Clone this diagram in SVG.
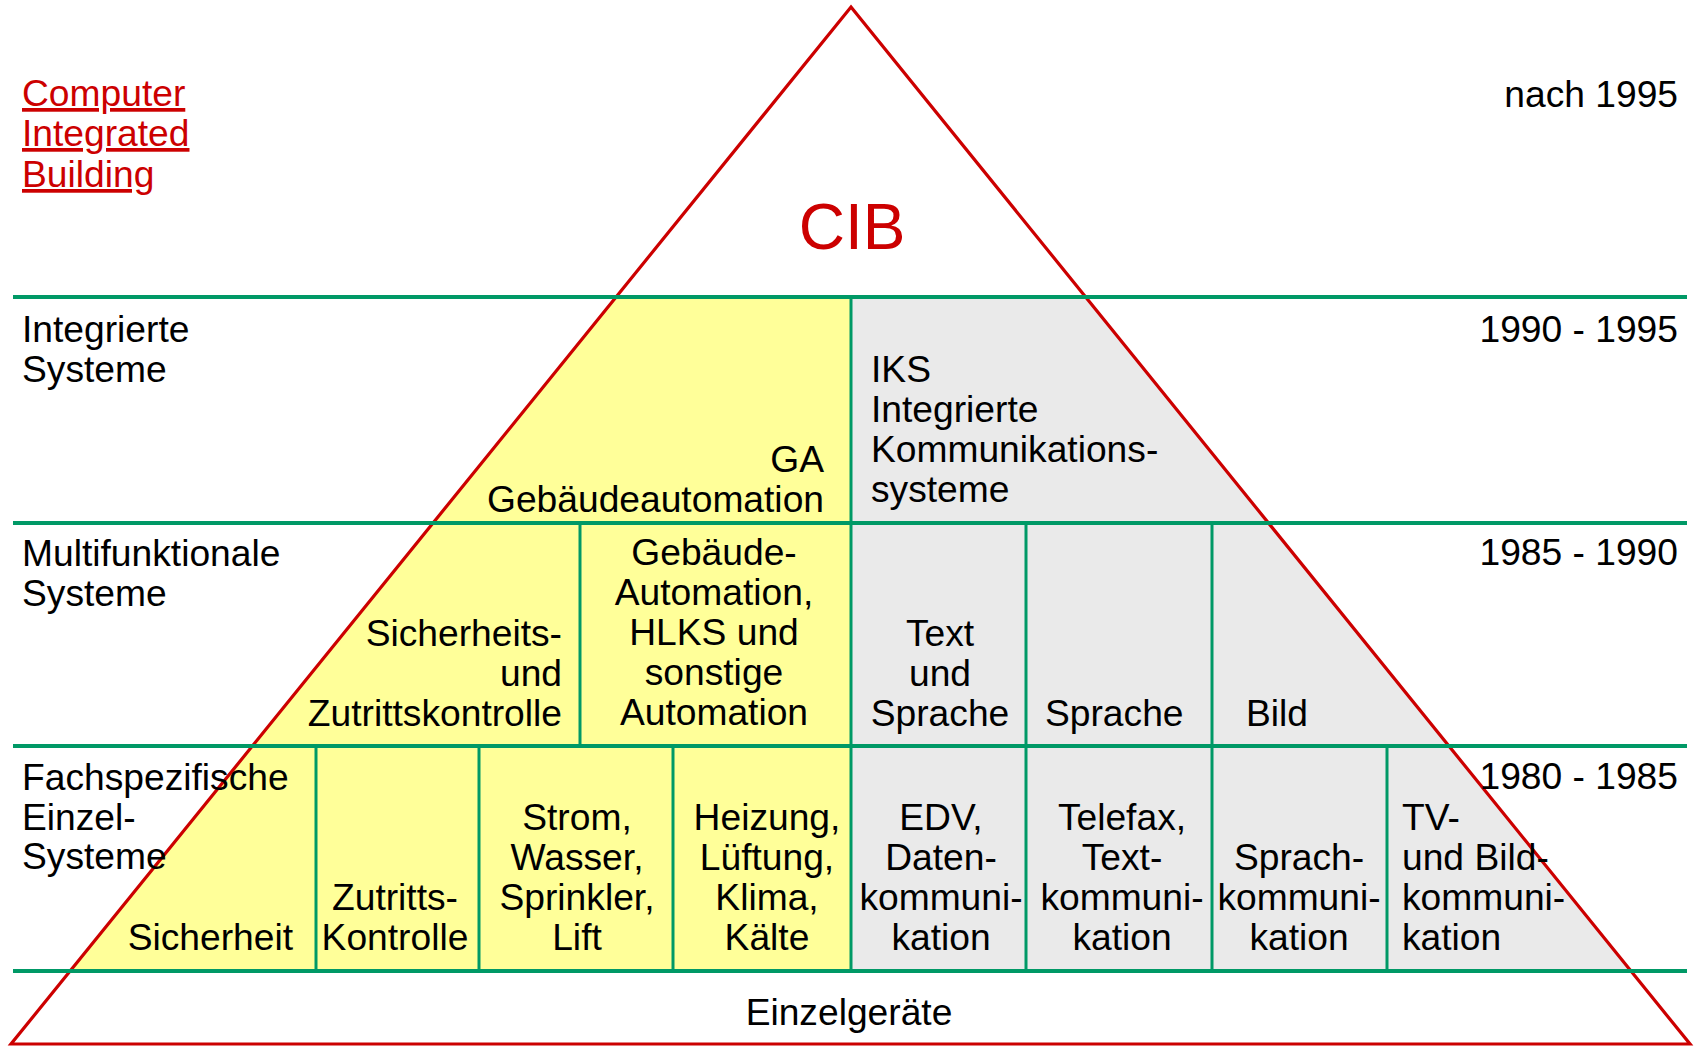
<svg xmlns="http://www.w3.org/2000/svg" width="1694" height="1046" viewBox="0 0 1694 1046">
<style>
  text { font-family: "Liberation Sans", Arial, sans-serif; font-size: 37.2px; fill: #000; }
  .red { fill: #CC0000; }
  .link { fill: #CC0000; text-decoration: underline; }
  .mid { text-anchor: middle; }
  .end { text-anchor: end; }
  .hline { stroke: #009966; stroke-width: 4; fill: none; }
  .vline { stroke: #009966; stroke-width: 3; fill: none; }
  .tri { stroke: #CC0000; stroke-width: 3.2; fill: none; stroke-linejoin: miter; }
</style>
<rect x="0" y="0" width="1694" height="1046" fill="#FFFFFF"/>

<g id="fills">
  <polygon points="616,297 851,297 851,971 70,971" fill="#FFFF99"/>
  <polygon points="851,297 1086,297 1632,971 851,971" fill="#EAEAEA"/>
</g>

<g id="pyramid">
  <polygon class="tri" points="851,7 1690,1044 11,1044"/>
</g>

<g id="connectors">
  <line class="hline" x1="13" y1="297" x2="1687" y2="297"/>
  <line class="hline" x1="13" y1="523" x2="1687" y2="523"/>
  <line class="hline" x1="13" y1="746" x2="1687" y2="746"/>
  <line class="hline" x1="13" y1="971" x2="1687" y2="971"/>
  <line class="vline" x1="851" y1="297" x2="851" y2="971"/>
  <line class="vline" x1="580" y1="523" x2="580" y2="746"/>
  <line class="vline" x1="1026" y1="523" x2="1026" y2="746"/>
  <line class="vline" x1="1212" y1="523" x2="1212" y2="746"/>
  <line class="vline" x1="316" y1="746" x2="316" y2="971"/>
  <line class="vline" x1="479" y1="746" x2="479" y2="971"/>
  <line class="vline" x1="673" y1="746" x2="673" y2="971"/>
  <line class="vline" x1="1026" y1="746" x2="1026" y2="971"/>
  <line class="vline" x1="1212" y1="746" x2="1212" y2="971"/>
  <line class="vline" x1="1387" y1="746" x2="1387" y2="971"/>
</g>

<g id="title">
  <text class="link" x="22" y="106">Computer</text>
  <text class="link" x="22" y="146">Integrated</text>
  <text class="link" x="22" y="187">Building</text>
</g>

<g id="cib">
  <text class="red mid" x="852" y="249" style="font-size:64px">CIB</text>
</g>

<g id="periods">
  <text class="end" x="1678" y="107">nach 1995</text>
  <text class="end" x="1678" y="342">1990 - 1995</text>
  <text class="end" x="1678" y="565">1985 - 1990</text>
  <text class="end" x="1678" y="789">1980 - 1985</text>
</g>

<g id="levels">
  <text x="22" y="342">Integrierte</text>
  <text x="22" y="382">Systeme</text>
  <text x="22" y="566">Multifunktionale</text>
  <text x="22" y="606">Systeme</text>
  <text x="22" y="790">Fachspezifische</text>
  <text x="22" y="830">Einzel-</text>
  <text x="22" y="869">Systeme</text>
</g>

<g id="ga">
  <text class="end" x="824" y="472">GA</text>
  <text class="end" x="824" y="512">Gebäudeautomation</text>
</g>

<g id="iks">
  <text x="871" y="382">IKS</text>
  <text x="871" y="422">Integrierte</text>
  <text x="871" y="462">Kommunikations-</text>
  <text x="871" y="502">systeme</text>
</g>

<g id="sicherheit-zutritt">
  <text class="end" x="562" y="646">Sicherheits-</text>
  <text class="end" x="562" y="686">und</text>
  <text class="end" x="562" y="726">Zutrittskontrolle</text>
</g>

<g id="gebaeude-automation">
  <text class="mid" x="714" y="565">Gebäude-</text>
  <text class="mid" x="714" y="605">Automation,</text>
  <text class="mid" x="714" y="645">HLKS und</text>
  <text class="mid" x="714" y="685">sonstige</text>
  <text class="mid" x="714" y="725">Automation</text>
</g>

<g id="text-sprache">
  <text class="mid" x="940" y="646">Text</text>
  <text class="mid" x="940" y="686">und</text>
  <text class="mid" x="940" y="726">Sprache</text>
</g>

<g id="sprache">
  <text x="1045" y="726">Sprache</text>
</g>

<g id="bild">
  <text x="1246" y="726">Bild</text>
</g>

<g id="sicherheit">
  <text class="end" x="293" y="950">Sicherheit</text>
</g>

<g id="zutrittskontrolle">
  <text class="mid" x="395" y="910">Zutritts-</text>
  <text class="mid" x="395" y="950">Kontrolle</text>
</g>

<g id="strom">
  <text class="mid" x="577" y="830">Strom,</text>
  <text class="mid" x="577" y="870">Wasser,</text>
  <text class="mid" x="577" y="910">Sprinkler,</text>
  <text class="mid" x="577" y="950">Lift</text>
</g>

<g id="heizung">
  <text class="mid" x="767" y="830">Heizung,</text>
  <text class="mid" x="767" y="870">Lüftung,</text>
  <text class="mid" x="767" y="910">Klima,</text>
  <text class="mid" x="767" y="950">Kälte</text>
</g>

<g id="edv">
  <text class="mid" x="941" y="830">EDV,</text>
  <text class="mid" x="941" y="870">Daten-</text>
  <text class="mid" x="941" y="910">kommuni-</text>
  <text class="mid" x="941" y="950">kation</text>
</g>

<g id="telefax">
  <text class="mid" x="1122" y="830">Telefax,</text>
  <text class="mid" x="1122" y="870">Text-</text>
  <text class="mid" x="1122" y="910">kommuni-</text>
  <text class="mid" x="1122" y="950">kation</text>
</g>

<g id="sprachkommunikation">
  <text class="mid" x="1299" y="870">Sprach-</text>
  <text class="mid" x="1299" y="910">kommuni-</text>
  <text class="mid" x="1299" y="950">kation</text>
</g>

<g id="tv-bild">
  <text x="1402" y="830">TV-</text>
  <text x="1402" y="870">und Bild-</text>
  <text x="1402" y="910">kommuni-</text>
  <text x="1402" y="950">kation</text>
</g>

<g id="einzelgeraete">
  <text class="mid" x="849" y="1025">Einzelgeräte</text>
</g>
</svg>
